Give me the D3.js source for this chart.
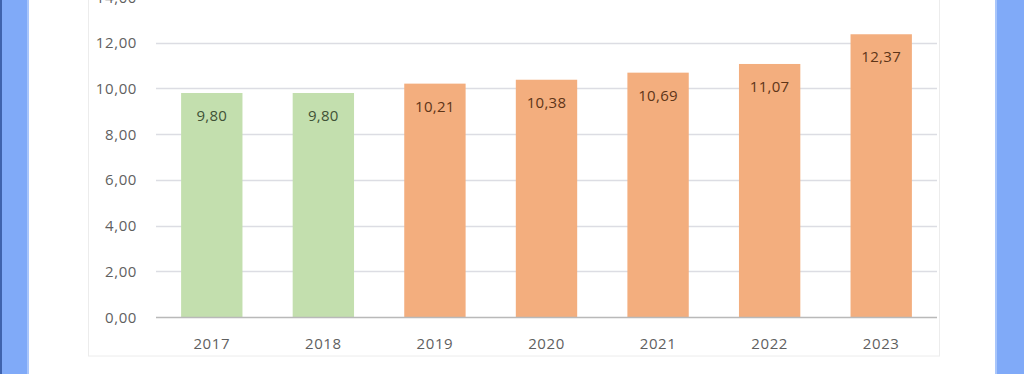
<!DOCTYPE html>
<html><head><meta charset="utf-8">
<script src="https://cdn.jsdelivr.net/npm/d3@7"></script>
<style>body{margin:0;background:#fff;}svg{display:block;}</style>
</head><body>
<svg id="c" width="1024" height="374"></svg>
<script>
const categories = ["2017","2018","2019","2020","2021","2022","2023"];
const values = [9.80, 9.80, 10.21, 10.38, 10.69, 11.07, 12.37];
const groups = ["real","real","proj","proj","proj","proj","proj"];
const yTicks = [0,2,4,6,8,10,12,14];

const svg = d3.select("#c");
const fmt = v => d3.format(".2f")(v).replace(".", ",");
const FONT = "Open Sans, sans-serif";

// side bands
svg.append("rect").attr("x",0).attr("y",0).attr("width",29).attr("height",374).attr("fill","#80aaf8");
svg.append("rect").attr("x",0).attr("y",0).attr("width",2).attr("height",374).attr("fill","#3f63ad");
svg.append("rect").attr("x",27).attr("y",0).attr("width",2).attr("height",374).attr("fill","#a9c6fb");
svg.append("rect").attr("x",996).attr("y",0).attr("width",28).attr("height",374).attr("fill","#80aaf8");
svg.append("rect").attr("x",995).attr("y",0).attr("width",2).attr("height",374).attr("fill","#a9c6fb");

// chart area border
svg.append("rect").attr("x",88.5).attr("y",-5).attr("width",851).attr("height",361)
  .attr("fill","none").attr("stroke","#ececec").attr("stroke-width",1);

const x = d3.scaleBand().domain(categories).range([156,937]).paddingInner(0.45).paddingOuter(0.225);
const y = d3.scaleLinear().domain([0,14]).range([317,-3]);

// gridlines
svg.append("g").selectAll("line").data(yTicks.filter(t=>t>0)).join("line")
  .attr("x1",156).attr("x2",937).attr("y1",d=>Math.round(y(d))+0.5).attr("y2",d=>Math.round(y(d))+0.5)
  .attr("stroke","#dcdde3").attr("stroke-width",1.5);

// y tick labels
svg.append("g").selectAll("text").data(yTicks).join("text")
  .attr("x",137).attr("y",d=>y(d)+5.5).attr("text-anchor","end")
  .attr("font-family",FONT).attr("font-size",15).attr("letter-spacing",0.6).attr("fill","#5f5f5f")
  .text(d=>fmt(d));

const color = g => g==="real" ? "#c3dfae" : "#f3ae7e";
const labelColor = g => g==="real" ? "#3f5236" : "#5e3518";

svg.append("g").selectAll("rect").data(values).join("rect")
  .attr("x",(d,i)=>x(categories[i])).attr("width",x.bandwidth())
  .attr("y",d=>y(d)).attr("height",d=>y(0)-y(d))
  .attr("fill",(d,i)=>color(groups[i]));

// axis line
svg.append("line").attr("x1",156).attr("x2",937).attr("y1",317.5).attr("y2",317.5)
  .attr("stroke","#b9b9b9").attr("stroke-width",1.5);

// value labels
svg.append("g").selectAll("text").data(values).join("text")
  .attr("x",(d,i)=>x(categories[i])+x.bandwidth()/2).attr("y",d=>y(d)+28)
  .attr("text-anchor","middle").attr("font-family",FONT).attr("font-size",15).attr("letter-spacing",0.3)
  .attr("fill",(d,i)=>labelColor(groups[i])).text(d=>fmt(d));

// category labels
svg.append("g").selectAll("text").data(categories).join("text")
  .attr("x",d=>x(d)+x.bandwidth()/2).attr("y",349)
  .attr("text-anchor","middle").attr("font-family",FONT).attr("font-size",15).attr("letter-spacing",0.6)
  .attr("fill","#5f5f5f").text(d=>d);
</script>
</body></html>
